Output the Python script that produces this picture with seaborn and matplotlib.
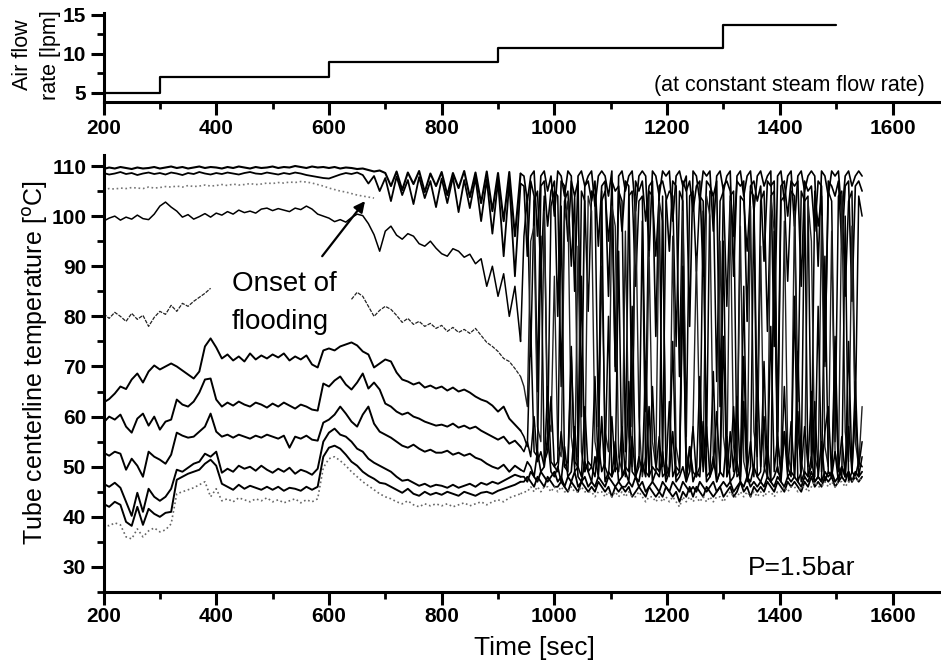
import numpy as np
import pandas as pd
import matplotlib
matplotlib.use("Agg")
import matplotlib.pyplot as plt
from matplotlib.ticker import MultipleLocator
import seaborn as sns

# ---------------------------------------------------------------- data
# sampling grids in seconds: slow-drift part, then the flooding part
time_pre = np.arange(200, 950, 10)
time_flood = np.arange(946, 1550, 6)
time_dot105 = np.arange(200, 690, 10)
time_t80_a = np.arange(200, 400, 10)
time_t80_b = np.arange(640, 950, 10)

# air flow rate steps (lpm)
air_time = [200, 300, 600, 900, 1300, 1500]
air_flow = [5.0, 7.0, 8.9, 10.7, 13.7, 13.7]

top1_pre = [109.4, 109.7, 109.5, 109.8, 109.6, 109.4, 109.7, 109.5, 109.6, 109.8,
            109.5, 109.7, 109.9, 109.6, 109.8, 109.5, 109.7, 109.9, 109.6, 109.8,
            109.7, 109.5, 109.8, 109.6, 109.9, 109.7, 109.5, 109.8, 109.6, 109.7,
            109.9, 109.6, 109.8, 109.7, 110.0, 109.8, 109.6, 109.9, 109.7, 109.8,
            109.6, 109.8, 109.5, 109.7, 109.6, 109.4, 109.5, 109.2, 108.9, 109.1,
            108.6, 106.0, 108.9, 105.2, 108.7, 106.4, 109.0, 104.8, 108.5, 106.0,
            108.8, 104.2, 108.6, 105.6, 109.0, 103.8, 108.7, 102.6, 108.9, 101.0,
            108.6, 99.0, 108.8, 96.0, 108.5]
top1_flood = [108, 103, 108, 109, 96, 108, 109, 105, 108, 100,
              109, 108, 104, 109, 108, 85, 108, 109, 106, 108,
              109, 102, 108, 109, 108, 104, 109, 70, 108, 109,
              105, 108, 109, 101, 108, 109, 108, 92, 109, 108,
              104, 109, 108, 109, 99, 108, 109, 106, 108, 78,
              109, 108, 103, 109, 108, 109, 97, 108, 109, 105,
              108, 109, 88, 108, 109, 104, 108, 109, 101, 108,
              109, 106, 108, 109, 74, 108, 109, 103, 108, 109,
              98, 108, 109, 105, 108, 109, 108, 90, 109, 108,
              104, 109, 108, 109, 100, 108, 109, 106, 108, 109, 108]

top2_pre = [108.6, 108.3, 108.5, 108.8, 108.4, 108.6, 108.2, 108.5, 108.7, 108.4,
            108.6, 108.3, 108.7, 108.5, 108.2, 108.6, 108.4, 108.8, 108.5, 108.3,
            108.6, 108.4, 108.7, 108.5, 108.3, 108.6, 108.8, 108.5, 108.4, 108.7,
            108.5, 108.3, 108.6, 108.4, 108.7, 108.5, 108.2, 108.0, 107.8, 107.6,
            107.5, 107.9, 108.3, 108.6, 108.4, 108.7, 108.2, 106.5, 108.0, 105.0,
            107.6, 103.0, 107.9, 104.2, 107.2, 102.4, 107.8, 103.6, 107.0, 101.8,
            107.5, 102.6, 107.8, 100.8, 107.2, 101.6, 107.6, 99.0, 107.3, 96.5,
            107.0, 92.0, 106.8, 88.0, 106.5]
top2_flood = [106, 92, 107, 104, 65, 106, 107, 98, 105, 107,
              80, 107, 106, 95, 107, 104, 107, 60, 106, 107,
              103, 107, 94, 106, 107, 84, 107, 105, 106, 97,
              107, 106, 58, 107, 105, 107, 99, 106, 107, 76,
              106, 107, 104, 93, 107, 106, 68, 107, 105, 107,
              101, 106, 107, 88, 107, 106, 104, 107, 62, 106,
              107, 105, 96, 107, 106, 107, 79, 106, 107, 103,
              106, 91, 107, 106, 107, 57, 106, 107, 100, 107,
              106, 107, 86, 107, 105, 106, 97, 107, 106, 71,
              107, 106, 104, 107, 94, 106, 107, 83, 106, 107, 105]

dot105 = [105.3, 105.5, 105.4, 105.6, 105.5, 105.7, 105.6, 105.5, 105.8, 105.6,
          105.7, 105.9, 105.8, 106.0, 105.8, 106.1, 105.9, 106.0, 106.2, 106.0,
          106.1, 106.3, 106.1, 106.4, 106.2, 106.3, 106.5, 106.3, 106.4, 106.6,
          106.5, 106.7, 106.6, 106.8, 106.7, 106.9, 106.8, 106.6, 106.3, 106.0,
          105.6, 105.3, 105.0, 104.8, 104.5, 104.2, 104.0, 103.8, 103.6]

t100_pre = [99.0, 99.6, 100.0, 99.2, 99.8, 99.4, 100.2, 99.5, 99.3, 100.4,
            102.0, 102.8, 101.8, 101.0, 99.8, 100.3, 99.4, 99.9, 100.5, 99.8,
            100.6, 100.2, 100.9, 100.4, 101.2, 100.7, 101.0, 100.6, 101.4, 101.6,
            101.1, 101.5, 101.2, 100.9, 101.6, 101.3, 102.0, 101.4, 100.4, 100.0,
            99.6, 98.9, 99.3, 98.8, 99.7, 100.4, 100.1, 98.5, 96.3, 93.0,
            97.0, 98.0, 96.2, 95.4, 96.5, 96.0, 94.5, 94.0, 95.0, 93.6,
            92.5, 92.0, 93.5, 93.0, 91.8, 92.4, 90.5, 91.5, 86.0, 90.0,
            84.0, 88.5, 80.0, 86.0, 75.0]
t100_flood = [96, 104, 72, 103, 105, 88, 104, 55, 102, 105,
              104, 66, 103, 105, 90, 104, 52, 105, 103, 81,
              105, 104, 58, 103, 105, 95, 104, 69, 105, 103,
              53, 104, 105, 86, 103, 104, 61, 105, 104, 92,
              104, 50, 103, 105, 104, 74, 105, 103, 56, 104,
              105, 89, 104, 103, 54, 105, 104, 67, 103, 105,
              82, 104, 105, 51, 104, 103, 93, 105, 104, 59,
              103, 105, 77, 104, 105, 52, 103, 104, 87, 105,
              104, 63, 105, 103, 104, 50, 105, 98, 104, 70,
              105, 103, 55, 104, 105, 84, 103, 105, 60, 104, 100]

t80_a = [80.5, 79.6, 80.8, 80.0, 79.0, 80.6, 79.4, 80.2, 78.0, 79.8,
         81.0, 80.4, 82.2, 81.0, 82.6, 82.0, 83.0, 83.8, 84.6, 85.6]
t80_b = [83.4, 84.8, 84.0, 82.0, 80.0, 81.2,
         82.0, 81.4, 80.2, 78.8, 79.6, 78.4, 79.0, 78.0, 78.6, 77.6,
         78.2, 77.0, 77.8, 76.8, 77.4, 76.6, 77.6, 76.2, 74.8, 74.0,
         73.0, 71.6, 71.0, 69.6, 68.0]
t80_flood = [66, 62, 95, 98, 58, 55, 101, 60, 57, 88,
             54, 52, 99, 103, 56, 50, 94, 53, 49, 104,
             101, 55, 51, 90, 57, 53, 102, 98, 52, 49,
             97, 56, 50, 104, 60, 48, 52, 93, 55, 50,
             103, 99, 51, 48, 96, 54, 50, 101, 53, 49,
             58, 92, 55, 50, 104, 100, 52, 48, 95, 56,
             50, 103, 54, 49, 98, 51, 48, 102, 57, 52,
             94, 50, 48, 104, 97, 55, 50, 99, 53, 49,
             101, 56, 51, 48, 103, 95, 52, 49, 100, 54,
             50, 97, 53, 49, 104, 57, 51, 98, 55, 50, 62]

t70_pre = [62.8, 63.5, 64.6, 66.0, 65.5, 67.4, 68.6, 66.8, 69.0, 70.2,
           69.4, 70.0, 70.6, 70.0, 69.2, 68.4, 67.6, 69.0, 74.0, 75.6,
           73.8, 71.6, 72.4, 71.2, 72.0, 71.0, 72.6, 71.4, 72.2, 71.6,
           72.4, 71.8, 72.6, 71.2, 72.0, 71.4, 72.2, 70.4, 69.8, 73.2,
           73.6, 73.2, 74.0, 74.4, 74.8, 74.2, 73.0, 72.4, 69.8, 70.6,
           71.4, 71.0, 68.8, 67.4, 67.0, 66.4, 66.8, 65.8, 66.2, 65.6,
           66.0, 65.2, 65.8, 65.0, 65.4, 64.8, 64.0, 63.4, 63.0, 62.2,
           61.0, 62.0, 59.6, 58.4, 57.2]
t70_flood = [56, 54, 78, 53, 52, 96, 51, 53, 64, 50,
             51, 102, 50, 49, 72, 51, 50, 88, 49, 51,
             50, 68, 49, 105, 50, 48, 60, 49, 93, 48,
             50, 49, 82, 48, 50, 99, 49, 48, 66, 50,
             49, 104, 48, 50, 75, 48, 49, 90, 47, 49,
             58, 48, 50, 101, 48, 49, 69, 47, 49, 95,
             48, 50, 62, 48, 49, 86, 47, 50, 103, 48,
             49, 71, 48, 47, 97, 49, 48, 57, 50, 48,
             84, 47, 49, 105, 48, 50, 63, 48, 47, 92,
             49, 48, 76, 50, 48, 100, 47, 49, 67, 48, 52]

t60_pre = [58.8, 60.0, 59.4, 60.4, 58.0, 56.8, 59.6, 60.6, 58.2, 60.0,
           57.4, 59.0, 59.4, 63.4, 62.4, 62.0, 63.0, 64.8, 67.4, 67.6,
           63.4, 62.0, 62.8, 62.2, 63.0, 62.4, 62.0, 62.8, 62.4, 61.8,
           62.6, 62.0, 62.8, 62.2, 61.6, 62.4, 62.0, 61.4, 61.2, 66.6,
           66.0, 67.2, 68.0, 66.4, 65.4, 66.8, 68.6, 65.6, 66.8, 65.4,
           62.6, 62.0, 61.0, 60.4, 60.8, 60.0, 59.6, 59.0, 58.6, 58.2,
           58.4, 58.0, 58.6, 57.8, 58.2, 57.6, 58.0, 57.2, 56.6, 56.0,
           55.4, 56.0, 54.6, 55.2, 54.0]
t60_flood = [53, 55, 52, 60, 51, 53, 50, 66, 51, 50,
             49, 57, 50, 51, 74, 49, 50, 48, 62, 49,
             50, 48, 55, 49, 51, 80, 48, 50, 49, 58,
             48, 67, 49, 48, 52, 49, 71, 48, 50, 49,
             56, 48, 49, 63, 48, 50, 49, 85, 48, 54,
             49, 48, 68, 49, 58, 48, 50, 61, 49, 76,
             48, 57, 49, 64, 48, 72, 49, 55, 48, 69,
             50, 60, 48, 78, 49, 56, 48, 66, 49, 59,
             48, 73, 49, 58, 50, 65, 48, 82, 49, 57,
             62, 48, 70, 49, 56, 48, 75, 49, 61, 50, 55]

t55_pre = [52.8, 52.2, 53.0, 52.6, 49.4, 51.6, 50.2, 48.0, 53.0, 52.0,
           51.4, 50.6, 52.4, 56.8, 56.2, 55.8, 56.0, 57.0, 58.0, 60.6,
           57.0, 56.0, 56.4, 55.8, 56.4, 56.0, 55.6, 56.2, 55.8, 56.4,
           56.0, 55.6, 56.2, 53.8, 56.0, 55.6, 56.2, 55.4, 55.2, 58.8,
           59.4, 60.4, 62.0, 60.6, 59.0, 58.0, 60.4, 62.0, 58.6, 57.0,
           56.4, 55.8, 55.0, 54.2, 53.8, 54.4, 53.6, 53.0, 53.4, 52.8,
           52.8, 53.2, 52.4, 52.8, 52.2, 52.6, 51.8, 51.4, 50.6, 50.0,
           49.6, 50.4, 49.0, 50.2, 49.4]
t55_flood = [49, 51, 50, 48, 53, 49, 50, 56, 49, 48,
             50, 47, 54, 48, 49, 58, 48, 47, 51, 49,
             47, 52, 48, 60, 47, 49, 48, 55, 47, 48,
             49, 47, 56, 48, 47, 51, 48, 62, 47, 49,
             48, 53, 47, 49, 57, 47, 48, 50, 47, 54,
             47, 49, 48, 59, 47, 48, 52, 47, 49, 48,
             56, 47, 48, 51, 47, 63, 48, 47, 50, 48,
             47, 49, 54, 47, 48, 50, 47, 57, 48, 49,
             48, 61, 47, 49, 48, 52, 47, 48, 55, 47,
             49, 48, 53, 47, 50, 48, 58, 49, 48, 51, 50]

t50_pre = [46.6, 46.0, 46.8, 45.8, 43.0, 40.2, 44.8, 41.0, 45.6, 44.0,
           43.2, 44.0, 45.6, 49.4, 49.0, 49.8, 50.6, 51.0, 52.6, 52.0,
           53.0, 48.8, 49.6, 49.0, 50.2, 49.6, 50.0, 49.2, 50.2, 49.4,
           48.8, 49.6, 49.0, 49.8, 48.6, 49.4, 49.0, 48.4, 49.6, 55.0,
           56.8, 57.6, 56.4, 56.0, 55.0, 53.6, 53.0, 51.6, 50.8, 50.2,
           49.6, 49.0, 48.0, 47.2, 47.4, 46.8, 46.2, 46.6, 46.0, 46.4,
           46.2, 45.8, 46.4, 45.8, 46.2, 46.6, 46.0, 46.8, 46.4, 47.0,
           46.6, 47.2, 47.8, 48.4, 48.0]
t50_flood = [48, 47, 49, 48, 47, 49, 48, 47, 48, 49,
             47, 48, 46, 48, 47, 49, 46, 47, 48, 46,
             47, 46, 48, 47, 46, 48, 47, 46, 47, 46,
             46, 47, 46, 48, 46, 47, 45, 46, 47, 46,
             45, 47, 46, 45, 47, 46, 45, 47, 46, 45,
             46, 45, 47, 46, 45, 46, 47, 45, 46, 47,
             46, 47, 45, 46, 47, 46, 48, 46, 47, 46,
             47, 46, 48, 47, 46, 48, 47, 46, 48, 47,
             48, 47, 46, 48, 47, 49, 47, 48, 47, 49,
             48, 49, 47, 48, 50, 48, 49, 47, 49, 48, 49]

t45_pre = [42.6, 42.0, 43.0, 42.4, 39.0, 38.2, 42.0, 38.4, 41.6, 40.6,
           40.0, 40.8, 41.0, 47.4, 48.0, 48.6, 49.0, 49.4, 50.6, 51.4,
           50.2, 46.6, 46.0, 45.4, 46.4, 45.6, 46.2, 45.8, 45.4, 46.0,
           45.4, 46.0, 45.2, 45.8, 45.6, 45.2, 46.0, 45.4, 46.0, 52.0,
           53.8, 54.2, 53.6, 52.4, 51.0, 50.2, 49.0, 48.2, 47.6, 46.8,
           46.6, 46.0, 45.4, 44.8, 45.6, 44.6, 44.2, 45.0, 44.4, 44.8,
           44.4, 45.0, 44.6, 44.2, 45.0, 44.6, 44.2, 44.8, 45.0, 44.6,
           45.2, 45.6, 46.0, 46.4, 47.0]
t45_flood = [47, 48, 47, 46, 48, 47, 46, 48, 47, 46,
             46, 47, 46, 45, 47, 46, 45, 47, 46, 45,
             46, 45, 47, 46, 45, 46, 44, 46, 45, 46,
             45, 46, 44, 45, 46, 45, 44, 46, 45, 44,
             45, 44, 46, 45, 44, 45, 43, 45, 44, 46,
             44, 46, 45, 44, 46, 45, 44, 45, 46, 44,
             45, 46, 44, 45, 47, 45, 46, 44, 46, 45,
             46, 45, 47, 46, 45, 47, 46, 45, 47, 46,
             47, 46, 45, 47, 46, 48, 46, 47, 46, 48,
             47, 48, 46, 47, 48, 47, 49, 47, 48, 47, 48]

dot40_pre = [38.6, 38.2, 38.8, 38.4, 36.0, 35.6, 37.6, 36.0, 37.2, 37.8,
             37.0, 37.4, 38.6, 44.6, 45.0, 45.4, 45.8, 46.4, 47.0, 44.0,
             45.6, 43.2, 43.6, 43.0, 43.8, 43.4, 43.0, 43.6, 43.2, 43.8,
             43.0, 43.4, 42.8, 43.2, 43.6, 42.8, 43.4, 43.0, 43.6, 49.8,
             51.6, 52.0, 51.2, 50.2, 49.0, 48.0, 47.0, 46.2, 45.4, 44.6,
             44.0, 43.6, 43.0, 42.6, 43.2, 42.4, 42.0, 42.6, 42.2, 42.6,
             42.2, 42.6, 42.0, 42.4, 42.8, 42.2, 42.6, 43.0, 42.4, 43.0,
             43.4, 43.0, 43.8, 44.2, 44.6]
dot40_flood = [45, 45, 46, 45, 46, 45, 46, 46, 45, 46,
               45, 46, 45, 45, 46, 45, 45, 46, 45, 45,
               45, 44, 45, 45, 44, 45, 44, 45, 44, 45,
               44, 45, 44, 44, 45, 44, 43, 44, 44, 43,
               44, 43, 44, 43, 44, 43, 42, 44, 43, 44,
               43, 44, 43, 44, 43, 44, 43, 44, 44, 43,
               44, 45, 44, 44, 45, 44, 45, 44, 45, 44,
               45, 44, 45, 45, 44, 45, 45, 46, 45, 46,
               46, 45, 46, 46, 45, 46, 47, 46, 46, 47,
               46, 47, 46, 47, 47, 46, 47, 47, 48, 47, 48]


def series(times, values):
    return pd.DataFrame({"time": np.asarray(times, dtype=float),
                         "temp": np.asarray(values, dtype=float)})


def flood_part(times_before, before, flood):
    # flooding segment, joined to the last sample of the segment before it
    return series(np.concatenate([[times_before[-1]], time_flood]), [before[-1]] + list(flood))


# (frame, color, linewidth, linestyle)
traces = [
    (series(time_pre, top1_pre), "black", 1.5, "-"),
    (flood_part(time_pre, top1_pre, top1_flood), "black", 1.2, "-"),
    (series(time_pre, top2_pre), "black", 1.3, "-"),
    (flood_part(time_pre, top2_pre, top2_flood), "black", 1.2, "-"),
    (series(time_dot105, dot105), "#777777", 1.2, ":"),
    (series(time_pre, t100_pre), "black", 1.1, "-"),
    (flood_part(time_pre, t100_pre, t100_flood), "black", 1.1, "-"),
    (series(time_t80_a, t80_a), "#222222", 0.9, (0, (3, 1))),
    (series(time_t80_b, t80_b), "#222222", 0.9, (0, (3, 1))),
    (flood_part(time_t80_b, t80_b, t80_flood), "#222222", 1.0, "-"),
    (series(time_pre, t70_pre), "black", 1.4, "-"),
    (flood_part(time_pre, t70_pre, t70_flood), "black", 1.1, "-"),
    (series(time_pre, t60_pre), "black", 1.4, "-"),
    (flood_part(time_pre, t60_pre, t60_flood), "black", 1.1, "-"),
    (series(time_pre, t55_pre), "black", 1.4, "-"),
    (flood_part(time_pre, t55_pre, t55_flood), "black", 1.2, "-"),
    (series(time_pre, t50_pre), "black", 1.4, "-"),
    (flood_part(time_pre, t50_pre, t50_flood), "black", 1.3, "-"),
    (series(time_pre, t45_pre), "black", 1.4, "-"),
    (flood_part(time_pre, t45_pre, t45_flood), "black", 1.3, "-"),
    (series(time_pre, dot40_pre), "#666666", 1.2, ":"),
    (flood_part(time_pre, dot40_pre, dot40_flood), "#666666", 1.2, ":"),
]

# ---------------------------------------------------------------- style
sns.set_style("ticks")
plt.rcParams["font.family"] = ["Liberation Sans", "DejaVu Sans"]
plt.rcParams.update({
    "axes.linewidth": 2.2,
    "axes.edgecolor": "black",
    "text.color": "black",
    "axes.labelcolor": "black",
    "xtick.color": "black",
    "ytick.color": "black",
})

fig = plt.figure(figsize=(9.41, 6.62), dpi=100)
fig.patch.set_facecolor("white")

ax_top = fig.add_axes([0.1100, 0.8459, 0.8900, 0.1345])
ax = fig.add_axes([0.1100, 0.1057, 0.8900, 0.6602])

# ---------------------------------------------------------------- air flow panel
sns.lineplot(x=air_time, y=air_flow, ax=ax_top, color="black", lw=1.6,
             drawstyle="steps-post", estimator=None, sort=False)
ax_top.set_xlim(200, 1686)
ax_top.set_ylim(3.8, 15.26)
ax_top.yaxis.set_major_locator(MultipleLocator(5))
ax_top.yaxis.set_minor_locator(MultipleLocator(2.5))
ax_top.text(1657, 5.2, "(at constant steam flow rate)", ha="right", va="baseline",
            fontsize=15.5)

# ---------------------------------------------------------------- temperature panel
for frame, color, lw, ls in traces:
    sns.lineplot(data=frame, x="time", y="temp", ax=ax, color=color, lw=lw,
                 linestyle=ls, estimator=None, sort=False)

ax.set_xlim(200, 1686)
ax.set_ylim(25, 112.2)
ax.yaxis.set_major_locator(MultipleLocator(10))
ax.yaxis.set_minor_locator(MultipleLocator(5))

ax.text(428, 85.0, "Onset of", fontsize=20, ha="left", va="baseline")
ax.text(428, 77.4, "flooding", fontsize=20, ha="left", va="baseline")
ax.annotate("", xy=(664, 103), xytext=(588, 92),
            arrowprops=dict(arrowstyle="-|>", color="black", lw=1.6,
                            mutation_scale=16, shrinkA=0, shrinkB=0))
ax.text(1343, 28.4, "P=1.5bar", fontsize=19, ha="left", va="baseline")

# ---------------------------------------------------------------- axes cosmetics
for a, xpad in ((ax_top, 3), (ax, 1.5)):
    sns.despine(ax=a)
    a.set_xlabel("")
    a.set_ylabel("")
    a.set_xticks(range(200, 1601, 200))
    a.xaxis.set_minor_locator(MultipleLocator(100))
    a.tick_params(which="major", length=9.5, width=2.2, direction="out",
                  labelsize=15, pad=3)
    a.tick_params(axis="x", which="major", pad=xpad)
    a.tick_params(which="minor", length=5, width=2.0, direction="out")
    for lab in a.get_xticklabels() + a.get_yticklabels():
        lab.set_fontweight("bold")
    a.set_facecolor("white")

fig.text(0.039, 0.917, "Air flow\nrate [lpm]", rotation=90, ha="center", va="center",
         fontsize=15.5, linespacing=1.45, multialignment="center")
fig.text(0.038, 0.453, "Tube centerline temperature [$^{\\mathrm{o}}$C]", rotation=90,
         ha="center", va="center", fontsize=18)
fig.text(534 / 941, 1 - 655 / 662, "Time [sec]", ha="center", va="baseline", fontsize=19)

fig.savefig("out.png", dpi=100, facecolor="white")
